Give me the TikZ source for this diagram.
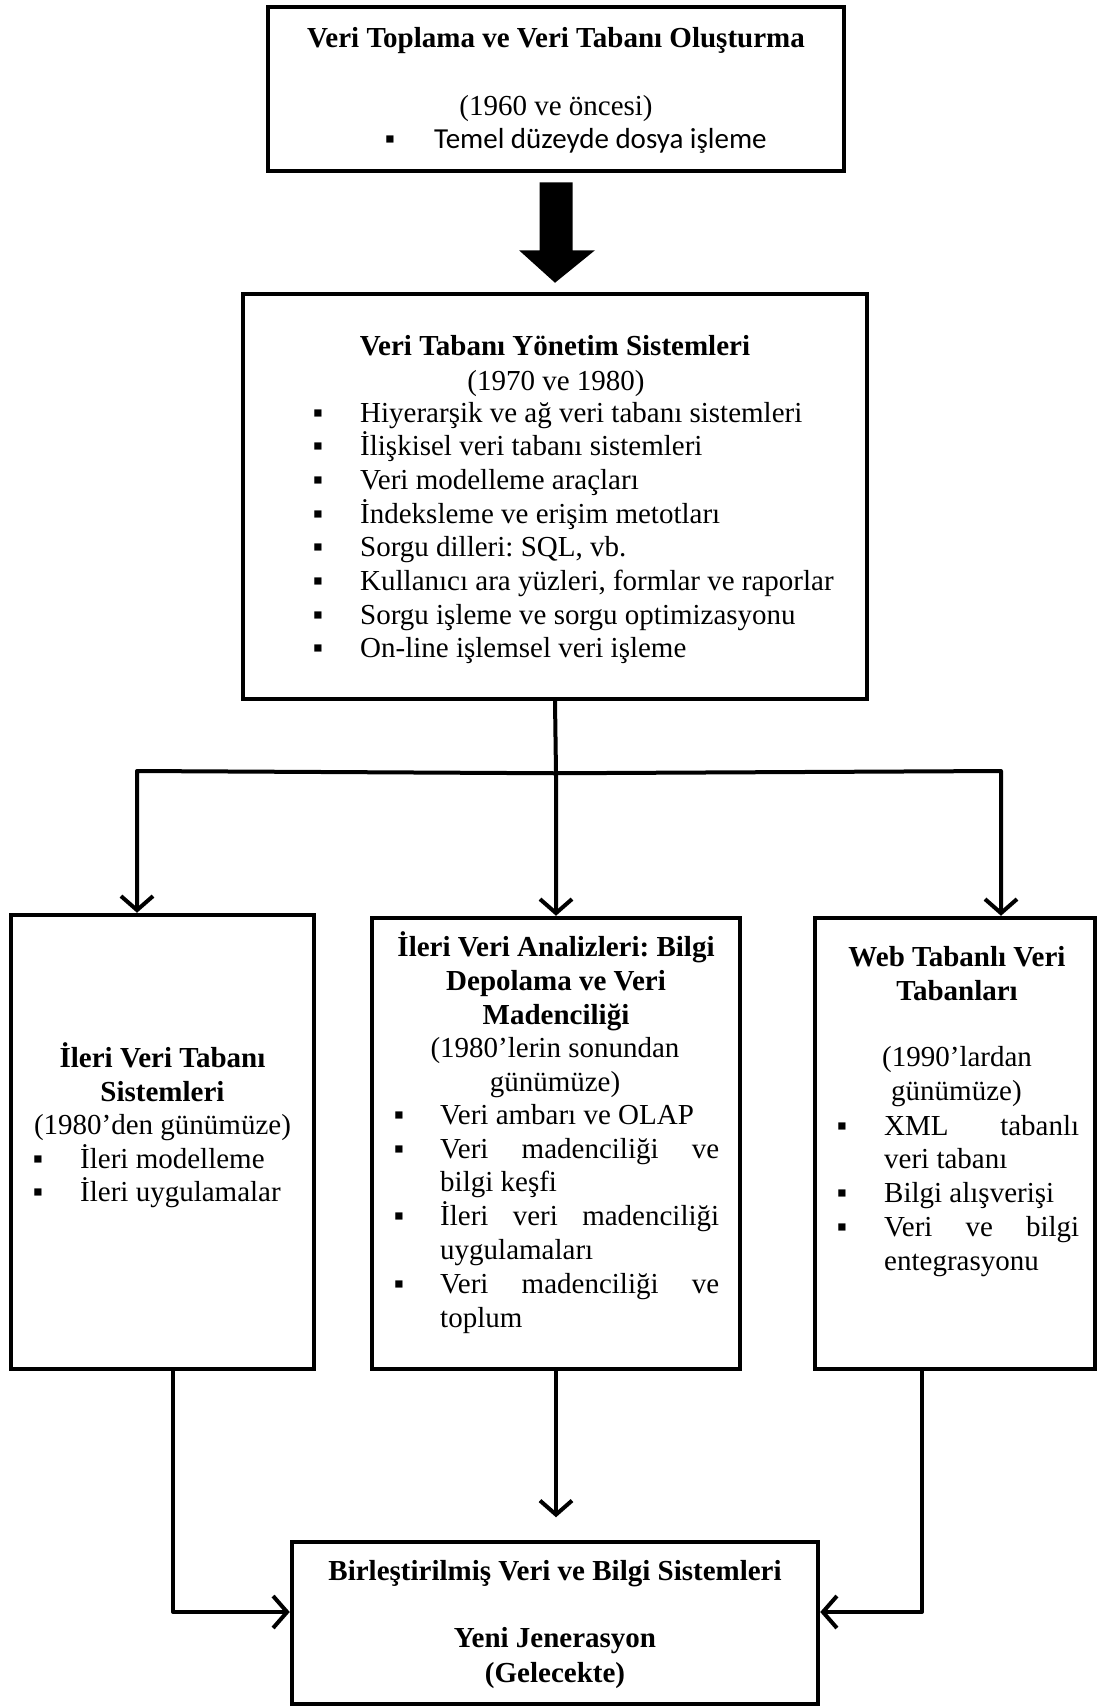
\documentclass[tikz,border=0pt]{standalone}
\usepackage{fontspec}
\setmainfont{Liberation Serif}
\newfontfamily\calibrifont{Carlito}
\usetikzlibrary{arrows.meta,calc}
\frenchspacing

\tikzset{
  box/.style={draw, line width=4.5pt, inner sep=0pt},
  ln/.style={inner sep=0pt, anchor=base, font=\fontsize{29}{34}\selectfont},
  lnw/.style={ln, anchor=base west},
  hd/.style={ln, font=\fontsize{29}{34}\selectfont\bfseries},
  bul/.style={inner sep=0pt, anchor=base, font=\fontsize{29}{34}\selectfont},
  conn/.style={line width=4pt, line cap=round, line join=round,
    -{Straight Barb[length=14pt,width=32pt,line width=4pt]}},
  blockarrow/.style={fill=black},
}

\begin{document}
\begin{tikzpicture}[x=1pt, y=-1pt]
\useasboundingbox (0,0) rectangle (1106,1708);

% ---------- boxes ----------
\node[box, minimum width=576pt, minimum height=164pt] (b1) at (556,89) {};
\node[box, minimum width=624pt, minimum height=405pt] (b2) at (555,496.5) {};
\node[box, minimum width=303pt, minimum height=454pt] (b3) at (162.5,1142) {};
\node[box, minimum width=368pt, minimum height=451pt] (b4) at (556,1143.5) {};
\node[box, minimum width=280pt, minimum height=451pt] (b5) at (955,1143.5) {};
\node[box, minimum width=526pt, minimum height=162pt] (b6) at (555,1623) {};

% ---------- box 1 ----------
\node[hd] (t1a) at (556,47) {Veri Toplama ve Veri Tabanı Oluşturma};
\node[ln] (t1b) at (556,115) {(1960 ve öncesi)};
\node[bul] (t1c) at (390,148) {▪};
\node[lnw, font=\calibrifont\fontsize{29}{34}\selectfont] (t1d) at (434,148) {Temel düzeyde dosya işleme};

% ---------- box 2 ----------
\node[hd] (t2a) at (555,355) {Veri Tabanı Yönetim Sistemleri};
\node[ln] (t2b) at (556,390) {(1970 ve 1980)};
\foreach \t [count=\i from 0] in {Hiyerarşik ve ağ veri tabanı sistemleri,
    İlişkisel veri tabanı sistemleri, Veri modelleme araçları,
    İndeksleme ve erişim metotları, {Sorgu dilleri: SQL, vb.},
    {Kullanıcı ara yüzleri, formlar ve raporlar},
    Sorgu işleme ve sorgu optimizasyonu, On-line işlemsel veri işleme} {
  \node[bul] (t2b\i) at (318,422+33.7*\i) {▪};
  \node[lnw] (t2i\i) at (360,422+33.7*\i) {\t};
}

% ---------- box 3 ----------
\node[hd] (t3a) at (162.5,1067) {İleri Veri Tabanı};
\node[hd] (t3b) at (162.5,1101) {Sistemleri};
\node[ln] (t3c) at (162.5,1134) {(1980’den günümüze)};
\node[bul] (t3d) at (38,1168) {▪};
\node[lnw] (t3e) at (80,1168) {İleri modelleme};
\node[bul] (t3f) at (38,1201) {▪};
\node[lnw] (t3g) at (80,1201) {İleri uygulamalar};

% ---------- box 4 ----------
\node[hd] (t4a) at (556,956) {İleri Veri Analizleri: Bilgi};
\node[hd] (t4b) at (556,990) {Depolama ve Veri};
\node[hd] (t4c) at (556,1024) {Madenciliği};
\node[ln] (t4d) at (555,1057) {(1980’lerin sonundan};
\node[ln] (t4e) at (555,1091) {günümüze)};
\node[bul] (t4f) at (399,1124) {▪};
\node[lnw] (t4g) at (440,1124) {Veri ambarı ve OLAP};
\node[bul] (t4h) at (399,1158) {▪};
\node[lnw] (t4i) at (440,1158) {\makebox[279pt][s]{Veri madenciliği ve}};
\node[lnw] (t4j) at (440,1191) {bilgi keşfi};
\node[bul] (t4k) at (399,1225) {▪};
\node[lnw] (t4l) at (440,1225) {\makebox[279pt][s]{İleri veri madenciliği}};
\node[lnw] (t4m) at (440,1259) {uygulamaları};
\node[bul] (t4n) at (399,1293) {▪};
\node[lnw] (t4o) at (440,1293) {\makebox[279pt][s]{Veri madenciliği ve}};
\node[lnw] (t4p) at (440,1327) {toplum};

% ---------- box 5 ----------
\node[hd] (t5a) at (957,966) {Web Tabanlı Veri};
\node[hd] (t5b) at (957,1000) {Tabanları};
\node[lnw] (t5c) at (882,1066) {(1990’lardan};
\node[lnw] (t5d) at (891,1100) {günümüze)};
\node[bul] (t5e) at (842,1135) {▪};
\node[lnw] (t5f) at (884,1135) {\makebox[195pt][s]{XML tabanlı}};
\node[lnw] (t5g) at (884,1168) {veri tabanı};
\node[bul] (t5h) at (842,1202) {▪};
\node[lnw] (t5i) at (884,1202) {Bilgi alışverişi};
\node[bul] (t5j) at (842,1236) {▪};
\node[lnw] (t5k) at (884,1236) {\makebox[195pt][s]{Veri ve bilgi}};
\node[lnw] (t5l) at (884,1270) {entegrasyonu};

% ---------- box 6 ----------
\node[hd] (t6a) at (555,1580) {Birleştirilmiş Veri ve Bilgi Sistemleri};
\node[hd] (t6b) at (555,1647) {Yeni Jenerasyon};
\node[hd] (t6c) at (555,1682) {(Gelecekte)};

% ---------- thick arrow between the first two boxes ----------
\fill[blockarrow] ($(b1.south)+(-16.5,9)$) -- ($(b1.south)+(16.5,9)$)
  -- ($(b1.south)+(16.5,77)$) -- ($(b1.south)+(39,77)$)
  -- ($(b2.north)+(0,-9)$)
  -- ($(b1.south)+(-37,77)$) -- ($(b1.south)+(-16.5,77)$) -- cycle;

% ---------- branching to the three middle boxes ----------
\coordinate (jn) at ($(b2.south)+(0,72)$);
\coordinate (jl) at (137,771);
\coordinate (jr) at (1001,771);
\draw[conn] (b2.south) -- (jn -| b4.north) -- (b4.north);
\draw[conn] (jn) -- (jl) -- (jl |- b3.north);
\draw[conn] (jn) -- (jr) -- (jr |- b5.north);

% ---------- merging into the last box ----------
\coordinate (ml) at (173,1612);
\coordinate (mr) at (922,1612);
\coordinate (mm) at ($(b4.south)+(0,146)$);
\draw[conn] (ml |- b3.south) -- (ml) -- (ml -| b6.west);
\draw[conn] (b4.south) -- (mm);
\draw[conn] (mr |- b5.south) -- (mr) -- (mr -| b6.east);
\end{tikzpicture}
\end{document}
